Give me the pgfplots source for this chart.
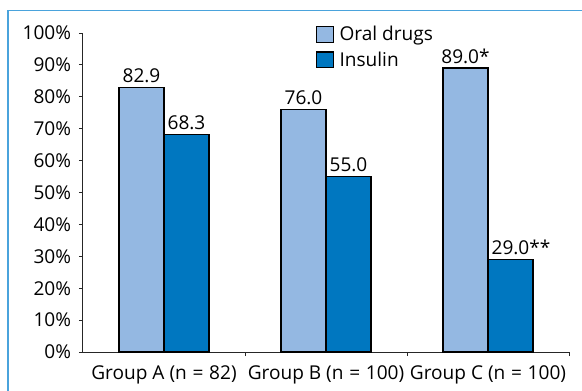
\documentclass[border=0pt]{standalone}
\usepackage{pgfplots}
\pgfplotsset{compat=1.18}
\usepackage{fontspec}
\setmainfont{Open Sans}
\definecolor{oral}{HTML}{94B8E2}
\definecolor{ins}{HTML}{0077C0}
\definecolor{framec}{HTML}{4AA3DC}
\newcommand{\lf}{\fontsize{14.3pt}{17pt}\selectfont}
\begin{document}
\lf
\begin{tikzpicture}[x=0.75pt,y=0.75pt]
\useasboundingbox (0,0) rectangle (582,390);
\draw[framec, line width=1pt] (8,-5) -- (8,379.5) -- (590,379.5);
\begin{axis}[
  at={(62.25pt,28.5pt)}, anchor=south west,
  scale only axis, width=364.5pt, height=239.25pt,
  xmin=-0.5, xmax=2.5, ymin=0, ymax=100,
  axis lines*=left,
  axis line style={-, line width=0.75pt, black!85},
  ybar=0pt, bar width=33.75pt,
  ytick={0,10,...,100},
  yticklabels={0\%,10\%,20\%,30\%,40\%,50\%,60\%,70\%,80\%,90\%,100\%},
  yticklabel style={xshift=-1pt},
  xtick={0.5,1.5,2.5}, xticklabels={},
  extra x ticks={0,1,2},
  extra x tick labels={Group A (n\hspace{0.3em}=\hspace{0.3em}82),Group B (n\hspace{0.3em}=\hspace{0.3em}100),Group C (n\hspace{0.3em}=\hspace{0.3em}100)},
  extra x tick style={major tick length=0pt},
  tick align=outside, major tick length=3pt,
  tick style={line width=0.75pt, black!85},
  every tick label/.append style={font=\lf},
  xticklabel style={yshift=-5pt},
  nodes near coords, point meta=explicit symbolic,
  nodes near coords style={font=\lf, anchor=south, inner sep=2.8pt},
  legend style={at={(0.479,1.03)}, anchor=north west, draw=none, fill=none,
    inner sep=0pt, row sep=2pt, font=\lf, nodes={inner xsep=4pt}},
  legend cell align=left,
  legend image code/.code={\draw[#1] (0pt,-5.5pt) rectangle (12.75pt,6.25pt);},
]
\addplot[fill=oral, draw=black, line width=0.9pt] coordinates {(0,82.9)[82.9] (1,76.0)[76.0] (2,89.0)[89.0*]};
\addplot[fill=ins, draw=black, line width=0.9pt] coordinates {(0,68.3)[68.3] (1,55.0)[55.0] (2,29.0)[\hphantom{**}29.0**]};
\legend{Oral drugs, Insulin}
\end{axis}
\end{tikzpicture}
\end{document}
